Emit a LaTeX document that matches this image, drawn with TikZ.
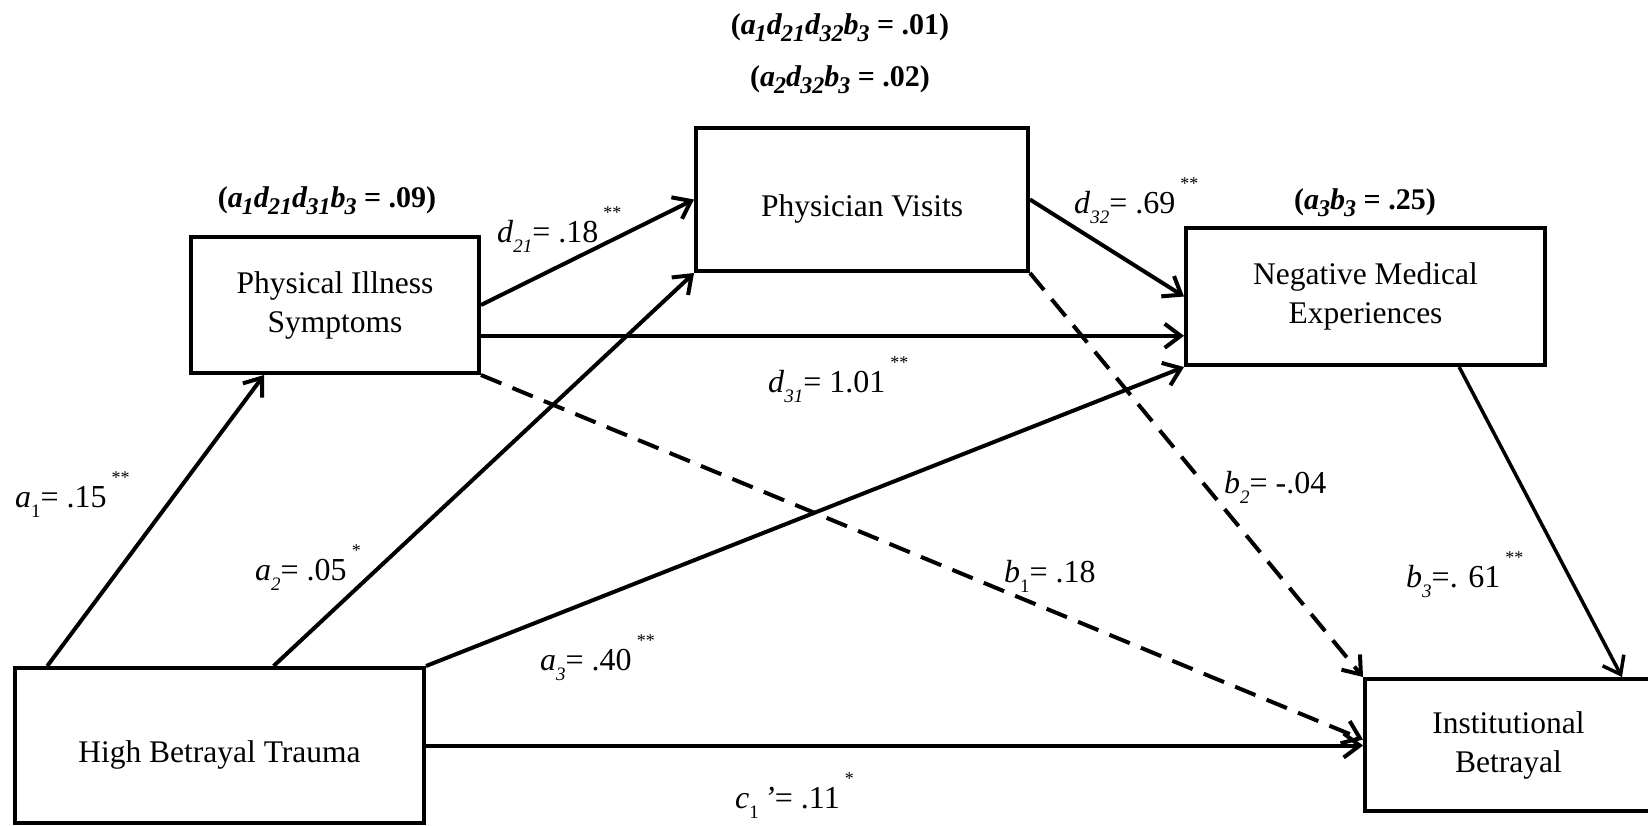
\documentclass[tikz,border=0pt]{standalone}
\usepackage{fontspec}
\setmainfont{Liberation Serif}
\usetikzlibrary{arrows.meta,calc}
\newcommand\lsub[1]{\raisebox{-10pt}{\fontsize{19}{19}\selectfont #1}}
\newcommand\lsup[1]{\kern5pt\raisebox{24pt}{\fontsize{18}{18}\selectfont #1}}
\newcommand\bsub[1]{\kern-1pt\raisebox{-7pt}{\fontsize{24}{24}\selectfont\bfseries\itshape #1}}
\begin{document}
\begin{tikzpicture}[x=1pt,y=-1pt,
 box/.style={draw, line width=4pt, rectangle, align=center, inner sep=0pt,
   font=\fontsize{31.5}{39}\selectfont, execute at begin node={\rule{0pt}{40pt}}},
 conn/.style={line width=4pt, -{Straight Barb[length=16pt,width=24pt]}},
 dconn/.style={conn, dash pattern=on 22pt off 12pt},
 lbl/.style={anchor=base west, inner sep=0pt, font=\fontsize{32}{32}\selectfont},
 blbl/.style={anchor=base, inner sep=0pt, font=\fontsize{30}{30}\selectfont\bfseries}]
\useasboundingbox (0,0) rectangle (1648,825);
\fill[white] (0,0) rectangle (1648,825);

\node[box, minimum width=288pt, minimum height=136pt] (pis) at (335,305) {Physical Illness\\Symptoms};
\node[box, minimum width=332pt, minimum height=143pt] (pv) at (862,199.5) {Physician Visits};
\node[box, minimum width=359pt, minimum height=137pt] (nme) at (1365.5,296.5) {Negative Medical\\Experiences};
\node[box, minimum width=409pt, minimum height=155pt] (hbt) at (219.5,745.5) {High Betrayal Trauma};
\node[box, minimum width=287pt, minimum height=132pt] (ib) at (1508.5,745) {Institutional\\Betrayal};

\draw[conn] ($(hbt.north west)!0.083!(hbt.north east)$) -- ($(pis.south west)!0.257!(pis.south east)$);
\draw[conn] ($(hbt.north west)!0.631!(hbt.north east)$) -- (pv.south west);
\draw[conn] (hbt.north east) -- (nme.south west);
\draw[conn] (hbt.east) -- (ib.west |- hbt.east);
\draw[conn] (pis.east) -- (pv.west);
\coordinate (d31s) at ($(pis.north east)!0.72!(pis.south east)$);
\draw[conn] (d31s) -- (nme.west |- d31s);
\draw[conn] (pv.east) -- (nme.west);
\draw[dconn] (pv.south east) -- (ib.north west);
\draw[dconn] (pis.south east) -- ($(ib.north west)!0.46!(ib.south west)$);
\draw[conn, line width=3.5pt] ($(nme.south west)!0.758!(nme.south east)$) -- ($(ib.north west)!0.89!(ib.north east)$);

\node[lbl] (la1) at (15,507) {\textit{a}\lsub{1}= .15\lsup{**}};
\node[lbl] (la2) at (255,580) {\textit{a}\lsub{\textit{2}}= .05\lsup{*}};
\node[lbl] (la3) at (540,670) {\textit{a}\lsub{\textit{3}}= .40\lsup{**}};
\node[lbl] (lc1) at (735,808) {\textit{c}\lsub{1}\textit{\,’}= .11\lsup{*}};
\node[lbl] (ld21) at (497,242) {\textit{d}\lsub{\textit{21}}= .18\lsup{**}};
\node[lbl] (ld31) at (768,392) {\textit{d}\lsub{\textit{31}}= 1.01\lsup{**}};
\node[lbl] (ld32) at (1074,213) {\textit{d}\lsub{\textit{32}}= .69\lsup{**}};
\node[lbl] (lb2) at (1224,493) {\textit{b}\lsub{\textit{2}}= -.04};
\node[lbl] (lb1) at (1004,582) {\textit{b}\lsub{1}= .18};
\node[lbl] (lb3) at (1406,587) {\textit{b}\lsub{\textit{3}}=. 61\lsup{**}};

\node[blbl] (t1) at (840,34) {(\textit{a}\bsub{1}\textit{d}\bsub{21}\textit{d}\bsub{32}\textit{b}\bsub{3} = .01)};
\node[blbl] (t2) at (840,86) {(\textit{a}\bsub{2}\textit{d}\bsub{32}\textit{b}\bsub{3} = .02)};
\node[blbl] (t3) at (327,207) {(\textit{a}\bsub{1}\textit{d}\bsub{21}\textit{d}\bsub{31}\textit{b}\bsub{3} = .09)};
\node[blbl] (t4) at (1365,209) {(\textit{a}\bsub{3}\textit{b}\bsub{3} = .25)};
\end{tikzpicture}
\end{document}
